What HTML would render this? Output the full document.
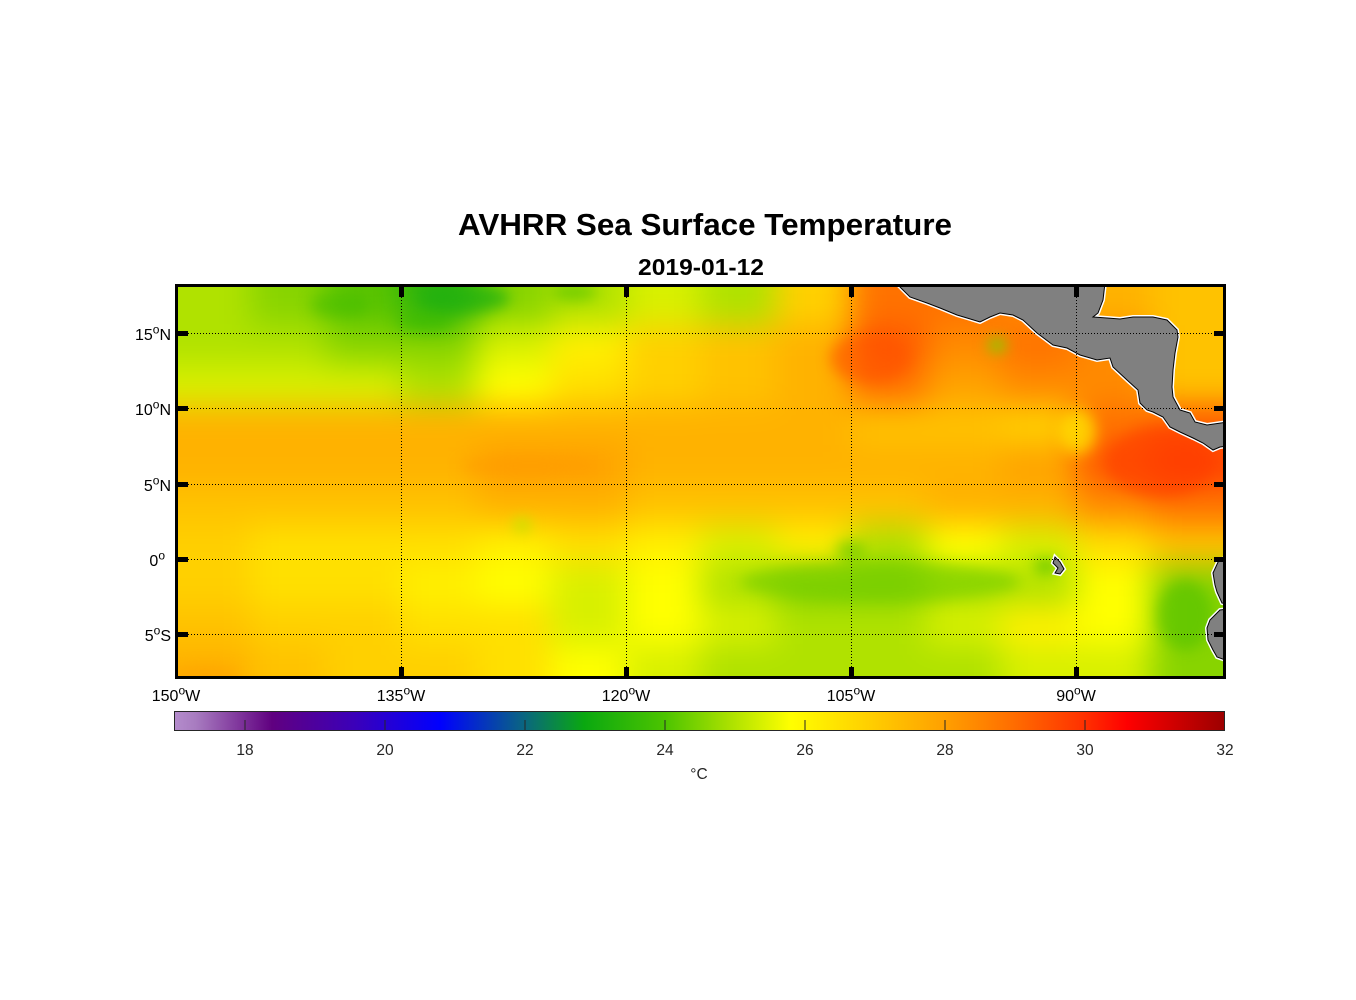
<!DOCTYPE html>
<html>
<head>
<meta charset="utf-8">
<style>
  html, body { margin: 0; padding: 0; background: #ffffff; }
  svg { display: block; }
  text { font-family: "Liberation Sans", Arial, sans-serif; }
</style>
</head>
<body>
<svg width="1356" height="1000" viewBox="0 0 1356 1000" xmlns="http://www.w3.org/2000/svg">
  <defs>
    <clipPath id="plot"><rect x="176" y="285" width="1050" height="394"/></clipPath>
    <filter id="blur" filterUnits="userSpaceOnUse" x="0" y="150" width="1356" height="650" color-interpolation-filters="sRGB">
      <feGaussianBlur stdDeviation="16"/>
    </filter>
    <filter id="blur2" filterUnits="userSpaceOnUse" x="0" y="150" width="1356" height="650" color-interpolation-filters="sRGB">
      <feGaussianBlur stdDeviation="7"/>
    </filter>
    <linearGradient id="cbar" x1="0" y1="0" x2="1" y2="0">
      <stop offset="0" stop-color="#b48ccc"/>
      <stop offset="0.02" stop-color="#a87cc0"/>
      <stop offset="0.093" stop-color="#600080"/>
      <stop offset="0.17" stop-color="#3c00b8"/>
      <stop offset="0.253" stop-color="#0000ff"/>
      <stop offset="0.333" stop-color="#0a6680"/>
      <stop offset="0.39" stop-color="#0aa810"/>
      <stop offset="0.467" stop-color="#4cc400"/>
      <stop offset="0.527" stop-color="#a8e000"/>
      <stop offset="0.587" stop-color="#ffff00"/>
      <stop offset="0.66" stop-color="#ffd000"/>
      <stop offset="0.733" stop-color="#ffa000"/>
      <stop offset="0.8" stop-color="#ff6c00"/>
      <stop offset="0.867" stop-color="#ff3000"/>
      <stop offset="0.907" stop-color="#ff0000"/>
      <stop offset="1" stop-color="#9c0000"/>
    </linearGradient>
  </defs>

  <!-- Titles -->
  <text x="458" y="235" font-size="31" font-weight="bold" fill="#000" textLength="494" lengthAdjust="spacingAndGlyphs">AVHRR Sea Surface Temperature</text>
  <text x="638" y="275" font-size="23.5" font-weight="bold" fill="#000" textLength="126" lengthAdjust="spacingAndGlyphs">2019-01-12</text>

  <g clip-path="url(#plot)">
    <!-- SST field (coarse grid, blurred) -->
    <g filter="url(#blur)">
      <!-- row 0 -->
      <rect x="100" y="200" width="151" height="126" fill="#b0e200"/>
      <rect x="251" y="200" width="76" height="126" fill="#88d400"/>
      <rect x="326" y="200" width="76" height="126" fill="#5ac400"/>
      <rect x="401" y="200" width="76" height="126" fill="#2cb40c"/>
      <rect x="476" y="200" width="76" height="126" fill="#88d400"/>
      <rect x="551" y="200" width="76" height="126" fill="#b0e200"/>
      <rect x="626" y="200" width="76" height="126" fill="#d8f000"/>
      <rect x="701" y="200" width="76" height="126" fill="#b0e200"/>
      <rect x="776" y="200" width="76" height="126" fill="#ffd000"/>
      <rect x="851" y="200" width="76" height="126" fill="#ff7200"/>
      <rect x="926" y="200" width="76" height="126" fill="#ff7200"/>
      <rect x="1001" y="200" width="76" height="126" fill="#ff8a00"/>
      <rect x="1076" y="200" width="76" height="126" fill="#ffb200"/>
      <rect x="1151" y="200" width="150" height="126" fill="#ffc200"/>
      <!-- row 1 -->
      <rect x="100" y="325" width="151" height="41" fill="#b0e200"/>
      <rect x="251" y="325" width="76" height="41" fill="#b0e200"/>
      <rect x="326" y="325" width="76" height="41" fill="#88d400"/>
      <rect x="401" y="325" width="76" height="41" fill="#88d400"/>
      <rect x="476" y="325" width="76" height="41" fill="#d8f000"/>
      <rect x="551" y="325" width="76" height="41" fill="#fff000"/>
      <rect x="626" y="325" width="76" height="41" fill="#ffd000"/>
      <rect x="701" y="325" width="76" height="41" fill="#ffc200"/>
      <rect x="776" y="325" width="76" height="41" fill="#ffb200"/>
      <rect x="851" y="325" width="76" height="41" fill="#ff5a00"/>
      <rect x="926" y="325" width="76" height="41" fill="#ff8a00"/>
      <rect x="1001" y="325" width="76" height="41" fill="#ff7200"/>
      <rect x="1076" y="325" width="76" height="41" fill="#ff8a00"/>
      <rect x="1151" y="325" width="150" height="41" fill="#ffc200"/>
      <!-- row 2 -->
      <rect x="100" y="365" width="151" height="41" fill="#d8f000"/>
      <rect x="251" y="365" width="76" height="41" fill="#d8f000"/>
      <rect x="326" y="365" width="76" height="41" fill="#d8f000"/>
      <rect x="401" y="365" width="76" height="41" fill="#b0e200"/>
      <rect x="476" y="365" width="76" height="41" fill="#ffff00"/>
      <rect x="551" y="365" width="76" height="41" fill="#ffe000"/>
      <rect x="626" y="365" width="76" height="41" fill="#ffd000"/>
      <rect x="701" y="365" width="76" height="41" fill="#ffc200"/>
      <rect x="776" y="365" width="76" height="41" fill="#ffb200"/>
      <rect x="851" y="365" width="76" height="41" fill="#ff7200"/>
      <rect x="926" y="365" width="76" height="41" fill="#ffa200"/>
      <rect x="1001" y="365" width="76" height="41" fill="#ff8a00"/>
      <rect x="1076" y="365" width="76" height="41" fill="#ff8a00"/>
      <rect x="1151" y="365" width="150" height="41" fill="#ffc200"/>
      <!-- row 3 -->
      <rect x="100" y="405" width="151" height="41" fill="#ffb200"/>
      <rect x="251" y="405" width="76" height="41" fill="#ffb200"/>
      <rect x="326" y="405" width="76" height="41" fill="#ffb200"/>
      <rect x="401" y="405" width="76" height="41" fill="#ffb200"/>
      <rect x="476" y="405" width="76" height="41" fill="#ffb200"/>
      <rect x="551" y="405" width="76" height="41" fill="#ffb200"/>
      <rect x="626" y="405" width="76" height="41" fill="#ffb200"/>
      <rect x="701" y="405" width="76" height="41" fill="#ffb200"/>
      <rect x="776" y="405" width="76" height="41" fill="#ffb200"/>
      <rect x="851" y="405" width="76" height="41" fill="#ffc200"/>
      <rect x="926" y="405" width="76" height="41" fill="#ffc200"/>
      <rect x="1001" y="405" width="76" height="41" fill="#ffd000"/>
      <rect x="1076" y="405" width="76" height="41" fill="#ff7200"/>
      <rect x="1151" y="405" width="150" height="41" fill="#ff5a00"/>
      <!-- row 4 -->
      <rect x="100" y="445" width="151" height="41" fill="#ffb200"/>
      <rect x="251" y="445" width="76" height="41" fill="#ffb200"/>
      <rect x="326" y="445" width="76" height="41" fill="#ffb200"/>
      <rect x="401" y="445" width="76" height="41" fill="#ffb200"/>
      <rect x="476" y="445" width="76" height="41" fill="#ffa200"/>
      <rect x="551" y="445" width="76" height="41" fill="#ffa200"/>
      <rect x="626" y="445" width="76" height="41" fill="#ffb200"/>
      <rect x="701" y="445" width="76" height="41" fill="#ffb200"/>
      <rect x="776" y="445" width="76" height="41" fill="#ffb200"/>
      <rect x="851" y="445" width="76" height="41" fill="#ffb200"/>
      <rect x="926" y="445" width="76" height="41" fill="#ffb200"/>
      <rect x="1001" y="445" width="76" height="41" fill="#ffa200"/>
      <rect x="1076" y="445" width="76" height="41" fill="#ff5a00"/>
      <rect x="1151" y="445" width="150" height="41" fill="#ff4400"/>
      <!-- row 5 -->
      <rect x="100" y="485" width="151" height="41" fill="#ffc200"/>
      <rect x="251" y="485" width="76" height="41" fill="#ffc200"/>
      <rect x="326" y="485" width="76" height="41" fill="#ffc200"/>
      <rect x="401" y="485" width="76" height="41" fill="#ffc200"/>
      <rect x="476" y="485" width="76" height="41" fill="#ffb200"/>
      <rect x="551" y="485" width="76" height="41" fill="#ffb200"/>
      <rect x="626" y="485" width="76" height="41" fill="#ffc200"/>
      <rect x="701" y="485" width="76" height="41" fill="#ffc200"/>
      <rect x="776" y="485" width="76" height="41" fill="#ffc200"/>
      <rect x="851" y="485" width="76" height="41" fill="#ffc200"/>
      <rect x="926" y="485" width="76" height="41" fill="#ffb200"/>
      <rect x="1001" y="485" width="76" height="41" fill="#ffb200"/>
      <rect x="1076" y="485" width="76" height="41" fill="#ff8a00"/>
      <rect x="1151" y="485" width="150" height="41" fill="#ff7200"/>
      <!-- row 6 -->
      <rect x="100" y="525" width="151" height="41" fill="#ffd000"/>
      <rect x="251" y="525" width="76" height="41" fill="#ffe000"/>
      <rect x="326" y="525" width="76" height="41" fill="#ffe000"/>
      <rect x="401" y="525" width="76" height="41" fill="#ffe000"/>
      <rect x="476" y="525" width="76" height="41" fill="#fff000"/>
      <rect x="551" y="525" width="76" height="41" fill="#ffe000"/>
      <rect x="626" y="525" width="76" height="41" fill="#fff000"/>
      <rect x="701" y="525" width="76" height="41" fill="#d8f000"/>
      <rect x="776" y="525" width="76" height="41" fill="#fff000"/>
      <rect x="851" y="525" width="76" height="41" fill="#b0e200"/>
      <rect x="926" y="525" width="76" height="41" fill="#ffff00"/>
      <rect x="1001" y="525" width="76" height="41" fill="#d8f000"/>
      <rect x="1076" y="525" width="76" height="41" fill="#ffe000"/>
      <rect x="1151" y="525" width="150" height="41" fill="#ffc200"/>
      <!-- row 7 -->
      <rect x="100" y="565" width="151" height="41" fill="#ffd000"/>
      <rect x="251" y="565" width="76" height="41" fill="#ffe000"/>
      <rect x="326" y="565" width="76" height="41" fill="#ffe000"/>
      <rect x="401" y="565" width="76" height="41" fill="#fff000"/>
      <rect x="476" y="565" width="76" height="41" fill="#ffff00"/>
      <rect x="551" y="565" width="76" height="41" fill="#d8f000"/>
      <rect x="626" y="565" width="76" height="41" fill="#ffff00"/>
      <rect x="701" y="565" width="76" height="41" fill="#b0e200"/>
      <rect x="776" y="565" width="76" height="41" fill="#88d400"/>
      <rect x="851" y="565" width="76" height="41" fill="#88d400"/>
      <rect x="926" y="565" width="76" height="41" fill="#b0e200"/>
      <rect x="1001" y="565" width="76" height="41" fill="#b0e200"/>
      <rect x="1076" y="565" width="76" height="41" fill="#ffff00"/>
      <rect x="1151" y="565" width="150" height="41" fill="#88d400"/>
      <!-- row 8 -->
      <rect x="100" y="605" width="151" height="41" fill="#ffc200"/>
      <rect x="251" y="605" width="76" height="41" fill="#ffd000"/>
      <rect x="326" y="605" width="76" height="41" fill="#ffd000"/>
      <rect x="401" y="605" width="76" height="41" fill="#ffe000"/>
      <rect x="476" y="605" width="76" height="41" fill="#ffe000"/>
      <rect x="551" y="605" width="76" height="41" fill="#d8f000"/>
      <rect x="626" y="605" width="76" height="41" fill="#ffff00"/>
      <rect x="701" y="605" width="76" height="41" fill="#d8f000"/>
      <rect x="776" y="605" width="76" height="41" fill="#b0e200"/>
      <rect x="851" y="605" width="76" height="41" fill="#b0e200"/>
      <rect x="926" y="605" width="76" height="41" fill="#d8f000"/>
      <rect x="1001" y="605" width="76" height="41" fill="#fff000"/>
      <rect x="1076" y="605" width="76" height="41" fill="#ffff00"/>
      <rect x="1151" y="605" width="150" height="41" fill="#88d400"/>
      <!-- row 9 -->
      <rect x="100" y="645" width="151" height="120" fill="#ffb200"/>
      <rect x="251" y="645" width="76" height="120" fill="#ffc200"/>
      <rect x="326" y="645" width="76" height="120" fill="#ffd000"/>
      <rect x="401" y="645" width="76" height="120" fill="#ffd000"/>
      <rect x="476" y="645" width="76" height="120" fill="#ffe000"/>
      <rect x="551" y="645" width="76" height="120" fill="#ffff00"/>
      <rect x="626" y="645" width="76" height="120" fill="#d8f000"/>
      <rect x="701" y="645" width="76" height="120" fill="#b0e200"/>
      <rect x="776" y="645" width="76" height="120" fill="#b0e200"/>
      <rect x="851" y="645" width="76" height="120" fill="#b0e200"/>
      <rect x="926" y="645" width="76" height="120" fill="#b0e200"/>
      <rect x="1001" y="645" width="76" height="120" fill="#d8f000"/>
      <rect x="1076" y="645" width="76" height="120" fill="#d8f000"/>
      <rect x="1151" y="645" width="150" height="120" fill="#88d400"/>
    </g>

    <!-- finer features -->
    <g filter="url(#blur2)">
      <ellipse cx="465" cy="298" rx="45" ry="14" fill="#20b010" opacity="0.75"/>
      <ellipse cx="340" cy="305" rx="30" ry="12" fill="#40bc00" opacity="0.5"/>
      <ellipse cx="425" cy="322" rx="28" ry="10" fill="#30b800" opacity="0.5"/>
      <ellipse cx="575" cy="292" rx="22" ry="9" fill="#40bc00" opacity="0.5"/>
      <ellipse cx="870" cy="358" rx="40" ry="25" fill="#ff5000" opacity="0.55"/>
      <ellipse cx="1160" cy="462" rx="55" ry="35" fill="#ff3800" opacity="0.55"/>
      <ellipse cx="530" cy="466" rx="70" ry="10" fill="#ff9800" opacity="0.5"/>
      <ellipse cx="522" cy="525" rx="9" ry="7" fill="#c0e400" opacity="0.9"/>
      <ellipse cx="1078" cy="432" rx="18" ry="22" fill="#ffe800" opacity="0.7"/>
      <ellipse cx="880" cy="582" rx="140" ry="20" fill="#70cc00" opacity="0.6"/>
      <ellipse cx="851" cy="550" rx="15" ry="8" fill="#60c800" opacity="0.7"/>
      <ellipse cx="1046" cy="566" rx="12" ry="8" fill="#50c000" opacity="0.7"/>
      <ellipse cx="1185" cy="615" rx="28" ry="35" fill="#50c000" opacity="0.6"/>
      <ellipse cx="997" cy="345" rx="9" ry="7" fill="#80d000" opacity="1"/>
      <ellipse cx="205" cy="675" rx="35" ry="10" fill="#ffa000" opacity="0.6"/>
    </g>

    <!-- land -->
    <g>
      <path d="M898,285 L902,289 L910,297 L927,303 L940,308 L957,315 L967,318 L980,322 L990,317 L1000,313 L1013,315 L1023,320 L1037,333 L1053,345 L1067,348 L1080,355 L1097,360 L1110,358 L1113,367 L1127,380 L1138,390 L1140,403 L1147,410 L1153,412 L1163,417 L1170,427 L1180,432 L1193,438 L1203,443 L1213,450 L1220,447 L1228,446 L1228,422 L1207,425 L1195,422 L1190,413 L1180,410 L1173,397 L1172,387 L1173,370 L1175,353 L1178,337 L1177,330 L1167,320 L1153,317 L1133,317 L1120,319 L1107,318 L1093,317 L1098,313 L1103,300 L1105,283 L896,283 Z" fill="none" stroke="#ffffff" stroke-width="4"/>
      <path d="M1055,557 L1060,562 L1064,569 L1060,574 L1055,573 L1058,568 L1053,563 Z" fill="none" stroke="#ffffff" stroke-width="4"/>
      <path d="M1228,557 L1219,560 L1213,573 L1215,585 L1217,592 L1222,603 L1228,604 Z" fill="none" stroke="#ffffff" stroke-width="4"/>
      <path d="M1228,609 L1220,610 L1210,620 L1207,628 L1208,640 L1213,650 L1217,657 L1228,661 Z" fill="none" stroke="#ffffff" stroke-width="4"/>

      <path d="M898,285 L902,289 L910,297 L927,303 L940,308 L957,315 L967,318 L980,322 L990,317 L1000,313 L1013,315 L1023,320 L1037,333 L1053,345 L1067,348 L1080,355 L1097,360 L1110,358 L1113,367 L1127,380 L1138,390 L1140,403 L1147,410 L1153,412 L1163,417 L1170,427 L1180,432 L1193,438 L1203,443 L1213,450 L1220,447 L1228,446 L1228,422 L1207,425 L1195,422 L1190,413 L1180,410 L1173,397 L1172,387 L1173,370 L1175,353 L1178,337 L1177,330 L1167,320 L1153,317 L1133,317 L1120,319 L1107,318 L1093,317 L1098,313 L1103,300 L1105,283 L896,283 Z" fill="#808080" stroke="#000" stroke-width="1"/>
      <path d="M1055,557 L1060,562 L1064,569 L1060,574 L1055,573 L1058,568 L1053,563 Z" fill="#808080" stroke="#000" stroke-width="1"/>
      <path d="M1228,557 L1219,560 L1213,573 L1215,585 L1217,592 L1222,603 L1228,604 Z" fill="#808080" stroke="#000" stroke-width="1"/>
      <path d="M1228,609 L1220,610 L1210,620 L1207,628 L1208,640 L1213,650 L1217,657 L1228,661 Z" fill="#808080" stroke="#000" stroke-width="1"/>
    </g>

    <!-- grid lines -->
    <g stroke="#000" stroke-width="1" stroke-dasharray="1 2" fill="none">
      <line x1="401.5" y1="285" x2="401.5" y2="679"/>
      <line x1="626.5" y1="285" x2="626.5" y2="679"/>
      <line x1="851.5" y1="285" x2="851.5" y2="679"/>
      <line x1="1076.5" y1="285" x2="1076.5" y2="679"/>
      <line x1="176" y1="333.5" x2="1226" y2="333.5"/>
      <line x1="176" y1="408.5" x2="1226" y2="408.5"/>
      <line x1="176" y1="484.5" x2="1226" y2="484.5"/>
      <line x1="176" y1="559.5" x2="1226" y2="559.5"/>
      <line x1="176" y1="634.5" x2="1226" y2="634.5"/>
    </g>
  </g>

  <!-- ticks -->
  <g fill="#000">
    <rect x="177" y="331" width="11" height="5"/>
    <rect x="177" y="406" width="11" height="5"/>
    <rect x="177" y="482" width="11" height="5"/>
    <rect x="177" y="557" width="11" height="5"/>
    <rect x="177" y="632" width="11" height="5"/>
    <rect x="1214" y="331" width="11" height="5"/>
    <rect x="1214" y="406" width="11" height="5"/>
    <rect x="1214" y="482" width="11" height="5"/>
    <rect x="1214" y="557" width="11" height="5"/>
    <rect x="1214" y="632" width="11" height="5"/>
    <rect x="399" y="286" width="5" height="11"/>
    <rect x="624" y="286" width="5" height="11"/>
    <rect x="849" y="286" width="5" height="11"/>
    <rect x="1074" y="286" width="5" height="11"/>
    <rect x="399" y="667" width="5" height="11"/>
    <rect x="624" y="667" width="5" height="11"/>
    <rect x="849" y="667" width="5" height="11"/>
    <rect x="1074" y="667" width="5" height="11"/>
  </g>

  <!-- frame -->
  <rect x="176.5" y="285.5" width="1048" height="392" fill="none" stroke="#000" stroke-width="3"/>

  <!-- latitude labels -->
  <g font-size="16" fill="#000" text-anchor="end">
    <text x="171" y="340">15<tspan font-size="12" dy="-6.5">o</tspan><tspan dy="6.5">N</tspan></text>
    <text x="171" y="415">10<tspan font-size="12" dy="-6.5">o</tspan><tspan dy="6.5">N</tspan></text>
    <text x="171" y="491">5<tspan font-size="12" dy="-6.5">o</tspan><tspan dy="6.5">N</tspan></text>
    <text x="165" y="566">0<tspan font-size="12" dy="-6.5">o</tspan></text>
    <text x="171" y="641">5<tspan font-size="12" dy="-6.5">o</tspan><tspan dy="6.5">S</tspan></text>
  </g>

  <!-- longitude labels -->
  <g font-size="16" fill="#000" text-anchor="middle">
    <text x="176" y="701">150<tspan font-size="12" dy="-6.5">o</tspan><tspan dy="6.5">W</tspan></text>
    <text x="401" y="701">135<tspan font-size="12" dy="-6.5">o</tspan><tspan dy="6.5">W</tspan></text>
    <text x="626" y="701">120<tspan font-size="12" dy="-6.5">o</tspan><tspan dy="6.5">W</tspan></text>
    <text x="851" y="701">105<tspan font-size="12" dy="-6.5">o</tspan><tspan dy="6.5">W</tspan></text>
    <text x="1076" y="701">90<tspan font-size="12" dy="-6.5">o</tspan><tspan dy="6.5">W</tspan></text>
  </g>

  <!-- colorbar -->
  <rect x="174.5" y="711.5" width="1050" height="19" fill="url(#cbar)" stroke="#262626" stroke-width="1"/>
  <g stroke="#262626" stroke-width="1">
    <line x1="245" y1="720" x2="245" y2="730"/>
    <line x1="385" y1="720" x2="385" y2="730"/>
    <line x1="525" y1="720" x2="525" y2="730"/>
    <line x1="665" y1="720" x2="665" y2="730"/>
    <line x1="805" y1="720" x2="805" y2="730"/>
    <line x1="945" y1="720" x2="945" y2="730"/>
    <line x1="1085" y1="720" x2="1085" y2="730"/>
  </g>
  <g font-size="15.5" fill="#262626" text-anchor="middle">
    <text x="245" y="755">18</text>
    <text x="385" y="755">20</text>
    <text x="525" y="755">22</text>
    <text x="665" y="755">24</text>
    <text x="805" y="755">26</text>
    <text x="945" y="755">28</text>
    <text x="1085" y="755">30</text>
    <text x="1225" y="755">32</text>
    <text x="699" y="779">°C</text>
  </g>
</svg>
</body>
</html>
